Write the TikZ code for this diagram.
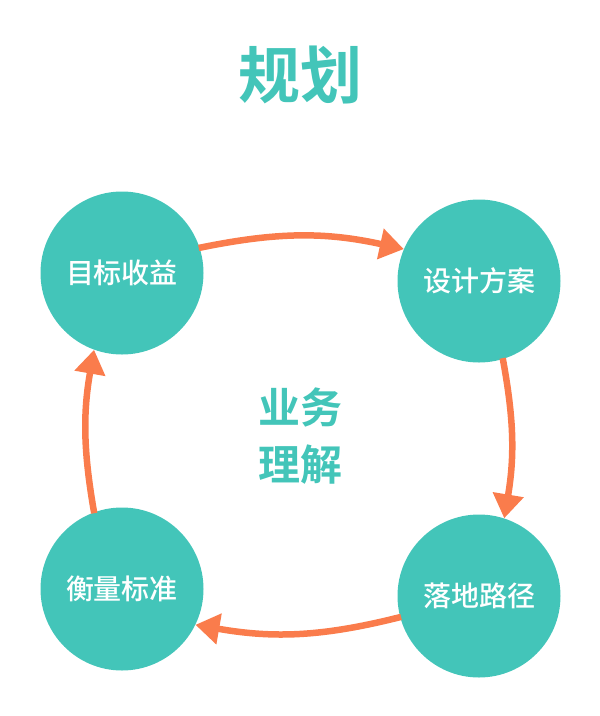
\documentclass[tikz,border=0pt]{standalone}
\usepackage{fontspec}
\newfontfamily\cjk{Noto Sans CJK SC Medium}
\newfontfamily\cjkbold{Noto Sans CJK SC Bold}
\usetikzlibrary{arrows.meta}
\definecolor{teal1}{HTML}{43C5B9}
\definecolor{orange1}{HTML}{FA7C4C}
\tikzset{
  stage/.style={circle, fill=teal1, minimum size=163pt, inner sep=0pt, text=white, font=\cjk\fontsize{28}{32}\selectfont},
  flow/.style={draw=orange1, line width=6.5pt, -{Triangle[length=24pt,width=30pt]}, shorten <=-1pt},
  heading/.style={text=teal1, font=\cjkbold\fontsize{62}{66}\selectfont},
  core/.style={text=teal1, font=\cjkbold\fontsize{42}{57}\selectfont, align=center}
}
\begin{document}
\begin{tikzpicture}[x=1pt,y=-1pt]
\useasboundingbox (0,0) rectangle (600,716);
\node[heading] (title) at (300,75) {规划};
\node[stage] (c1) at (122,273) {目标收益};
\node[stage] (c2) at (479,281) {设计方案};
\node[stage] (c3) at (479,596) {落地路径};
\node[stage] (c4) at (122,589) {衡量标准};
\node[core] (mid) at (300,436) {业务\\理解};
\draw[flow] (c1.18) to[bend left=12] (c2.157);
\draw[flow] (c2.-73) to[bend left=10] (c3.72);
\draw[flow] (c3.195) to[bend left=12] (c4.334);
\draw[flow] (c4.110) to[bend left=10] (c1.250);
\end{tikzpicture}
\end{document}
